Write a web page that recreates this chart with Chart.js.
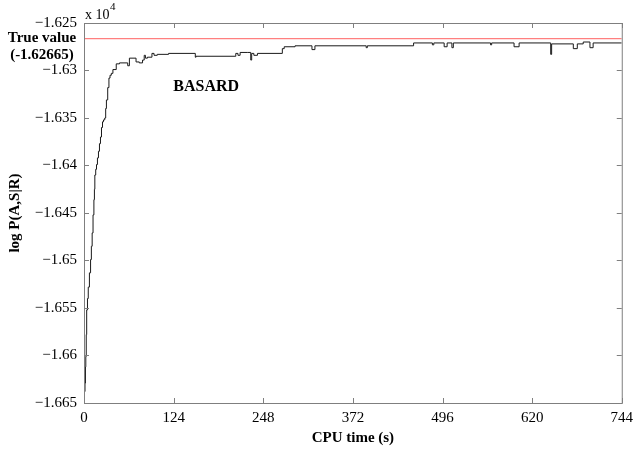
<!DOCTYPE html>
<html>
<head>
<meta charset="utf-8">
<script src="https://cdn.jsdelivr.net/npm/chart.js@4/dist/chart.umd.min.js"></script>
<style>
  html, body { margin: 0; padding: 0; background: #fff; }
  #wrap { width: 639px; height: 451px; }
</style>
</head>
<body>
<div id="wrap"><canvas id="c" width="639" height="451"></canvas></div>
<script>
// CPU time (s) at which the best value changes
const cpuTime = [
    0, 0.7, 1.4, 2.0, 2.5, 3.1, 3.7, 4.8, 5.9, 7.5, 9.1, 10.2, 11.3, 12.5, 13.7, 14.4, 15,
    16.2, 17.3, 18.6, 20, 21.4, 22.8, 24.2, 25.6, 27, 28.7, 30, 31, 32.8, 34.5, 36, 37.8, 40,
    44.6, 49.1, 60.5, 62.8, 72, 76.5, 81, 83.3, 85, 87.8, 94, 96.9, 101.4, 117, 154, 155,
    210, 213, 216, 226.6, 230.7, 232, 235, 240, 274.4, 277, 292, 315.4, 319.5, 390.4, 392,
    456, 482, 484, 498.3, 502.4, 509, 511, 562.5, 564, 595, 602, 645.7, 647, 677, 682.5,
    690.7, 700, 704.4, 744
];
// log P(A,S|R), in units of 10^4
const logP = [
    -1.6646, -1.6638, -1.6629, -1.6612, -1.6601, -1.6578, -1.6552, -1.6540, -1.6528, -1.6513,
    -1.6499, -1.6485, -1.6471, -1.6452, -1.6436, -1.6425, -1.6410,
    -1.6404, -1.6399, -1.6392, -1.6385, -1.6377, -1.6370, -1.6360, -1.6354, -1.6352, -1.6350,
    -1.6340, -1.6331, -1.6318, -1.6308, -1.6305, -1.6303, -1.6299,
    -1.6293, -1.6292, -1.6295, -1.6287, -1.6291, -1.6292, -1.6289, -1.6284, -1.6287, -1.6286,
    -1.6282, -1.6284, -1.6283, -1.6282, -1.6286, -1.6285,
    -1.6282, -1.6284, -1.6281, -1.6281, -1.6289, -1.6282, -1.6284, -1.6282, -1.6277, -1.6275,
    -1.6274, -1.6278, -1.6274, -1.6276, -1.6274,
    -1.6271, -1.6273, -1.6271, -1.6275, -1.6271, -1.6276, -1.6271, -1.6273, -1.6271, -1.6275,
    -1.6271, -1.6283, -1.6272, -1.6277, -1.6272,
    -1.6270, -1.6276, -1.6271, -1.6271
];
const trueValue = -1.62665;
const xTicks = [0, 124, 248, 372, 496, 620, 744];
const yTicks = [-1.665, -1.66, -1.655, -1.65, -1.645, -1.64, -1.635, -1.63, -1.625];

const serif = '"Liberation Serif", "Times New Roman", serif';

function fmtY(v) {
    return String(Number(v.toFixed(3))).replace('-', '\u2212');
}

// 画坐标框、向内的刻度线和注释文字
const decorPlugin = {
    id: 'decor',
    afterDraw(chart) {
        const { ctx, chartArea: a, scales } = chart;
        const xs = scales.x, ys = scales.y;
        ctx.save();
        ctx.strokeStyle = '#7f7f7f';
        ctx.lineWidth = 1;
        ctx.strokeRect(a.left + 0.5, a.top + 0.5, a.right - a.left, a.bottom - a.top);
        ctx.beginPath();
        xTicks.forEach(t => {
            const px = Math.round(xs.getPixelForValue(t)) + 0.5;
            ctx.moveTo(px, a.bottom); ctx.lineTo(px, a.bottom - 5);
            ctx.moveTo(px, a.top); ctx.lineTo(px, a.top + 5);
        });
        yTicks.forEach(v => {
            const py = Math.round(ys.getPixelForValue(v)) + 0.5;
            ctx.moveTo(a.left, py); ctx.lineTo(a.left + 5, py);
            ctx.moveTo(a.right, py); ctx.lineTo(a.right - 5, py);
        });
        ctx.stroke();

        ctx.fillStyle = '#000';
        ctx.textBaseline = 'middle';
        // x 10^4
        ctx.textAlign = 'left';
        ctx.font = '14px ' + serif;
        ctx.fillText('x 10', a.left + 1, 15);
        ctx.font = '11px ' + serif;
        ctx.fillText('4', a.left + 26, 7);
        // True value
        ctx.font = 'bold 15px ' + serif;
        ctx.textAlign = 'center';
        ctx.fillText('True value', 42, 38);
        ctx.fillText('(-1.62665)', 42, 55);
        // BASARD
        ctx.font = 'bold 16px ' + serif;
        ctx.fillText('BASARD', xs.getPixelForValue(169), ys.getPixelForValue(-1.63174));
        ctx.restore();
    }
};

new Chart(document.getElementById('c'), {
    type: 'line',
    data: {
        datasets: [{
            label: 'BASARD',
            data: cpuTime.map((t, i) => ({ x: t, y: logP[i] })),
            borderColor: '#1a1a1a',
            borderWidth: 1,
            pointRadius: 0,
            stepped: 'before',
            fill: false
        }, {
            label: 'True value',
            data: [{ x: 0, y: trueValue }, { x: 744, y: trueValue }],
            borderColor: '#ff7f7f',
            borderWidth: 1.2,
            pointRadius: 0,
            fill: false
        }]
    },
    options: {
        responsive: false,
        animation: false,
        layout: { padding: { top: 23, right: 10, left: 0, bottom: 0 } },
        plugins: { legend: { display: false }, tooltip: { enabled: false } },
        scales: {
            x: {
                type: 'linear',
                min: 0,
                max: 744,
                afterBuildTicks: s => { s.ticks = xTicks.map(v => ({ value: v })); },
                afterFit: s => { s.height = 48; },
                grid: { display: false, drawTicks: false },
                border: { display: false },
                ticks: {
                    color: '#000',
                    padding: 6,
                    maxRotation: 0,
                    font: { family: serif, size: 15 },
                    callback: v => String(v)
                },
                title: {
                    display: true,
                    text: 'CPU time (s)',
                    color: '#000',
                    padding: { top: 4, bottom: 4 },
                    font: { family: serif, size: 15, weight: 'bold' }
                }
            },
            y: {
                type: 'linear',
                min: -1.665,
                max: -1.625,
                afterBuildTicks: s => { s.ticks = yTicks.map(v => ({ value: v })); },
                afterFit: s => { s.width = 84; },
                grid: { display: false, drawTicks: false },
                border: { display: false },
                ticks: {
                    color: '#000',
                    padding: 7,
                    font: { family: serif, size: 15 },
                    callback: v => fmtY(v)
                },
                title: {
                    display: true,
                    text: 'log P(A,S|R)',
                    color: '#000',
                    padding: { top: 6, bottom: 6 },
                    font: { family: serif, size: 15, weight: 'bold' }
                }
            }
        }
    },
    plugins: [decorPlugin]
});
</script>
</body>
</html>
